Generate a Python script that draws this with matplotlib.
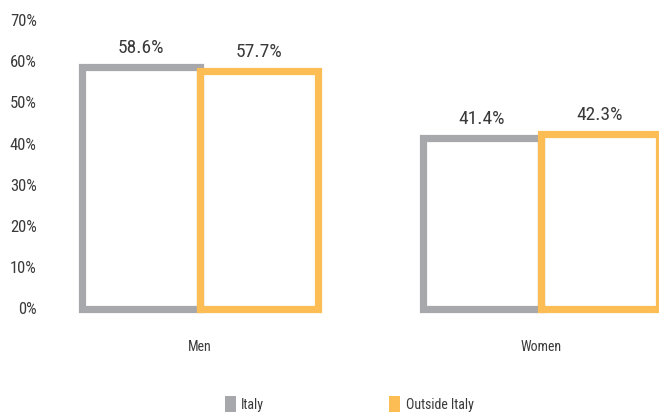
import matplotlib
matplotlib.use('Agg')
import matplotlib.pyplot as plt
from matplotlib.patches import Patch
import numpy as np

categories = ['Men', 'Women']
italy = [58.6, 41.4]
outside_italy = [57.7, 42.3]
series_names = ['Italy', 'Outside Italy']
yticks = [0, 10, 20, 30, 40, 50, 60, 70]

gray = '#a7a8ab'
orange = '#fdbd55'
text_color = '#3a3a3a'

plt.rcParams['font.family'] = ['Roboto Condensed', 'DejaVu Sans']

fig = plt.figure(figsize=(6.59, 4.12), dpi=100)
W, H = 659, 412
left_px, right_px = 45, 659
bottom_px, top_px = 308.5, 20
ax = fig.add_axes([left_px / W, (H - bottom_px) / H,
                   (right_px - left_px) / W, (bottom_px - top_px) / H])

x = np.arange(len(categories))
w = 0.346
b1 = ax.bar(x - w / 2, italy, w, facecolor='none', edgecolor=gray,
            linewidth=5.2, clip_on=False)
b2 = ax.bar(x + w / 2, outside_italy, w, facecolor='none', edgecolor=orange,
            linewidth=5.2, clip_on=False)

for bars, vals in [(b1, italy), (b2, outside_italy)]:
    for rect, v in zip(bars, vals):
        ax.annotate('{:.1f}%'.format(v), (rect.get_x() + rect.get_width() / 2, v),
                    xytext=(0, 7), textcoords='offset points', ha='center',
                    va='bottom', fontsize=14, color=text_color)

ax.set_xlim(-(200 - left_px) / 341, (right_px - 200) / 341)
ax.set_ylim(0, 70)
ax.set_yticks(yticks)
ax.set_yticklabels(['{}%'.format(t) for t in yticks], fontsize=12, color=text_color)
ax.set_xticks(x)
ax.set_xticklabels(categories, fontsize=10, color=text_color)
ax.tick_params(axis='both', length=0)
ax.tick_params(axis='y', pad=6)
ax.tick_params(axis='x', pad=23)
for s in ax.spines.values():
    s.set_visible(False)

handles = [Patch(facecolor=gray, edgecolor='none'), Patch(facecolor=orange, edgecolor='none')]
fig.legend(handles, series_names, loc='center', bbox_to_anchor=(0.53, 1 - 404 / H),
           ncol=2, frameon=False, fontsize=10, handlelength=0.8, handleheight=1.4,
           handletextpad=0.4, columnspacing=9.0, labelcolor=text_color)

fig.savefig('out.png', dpi=100)
